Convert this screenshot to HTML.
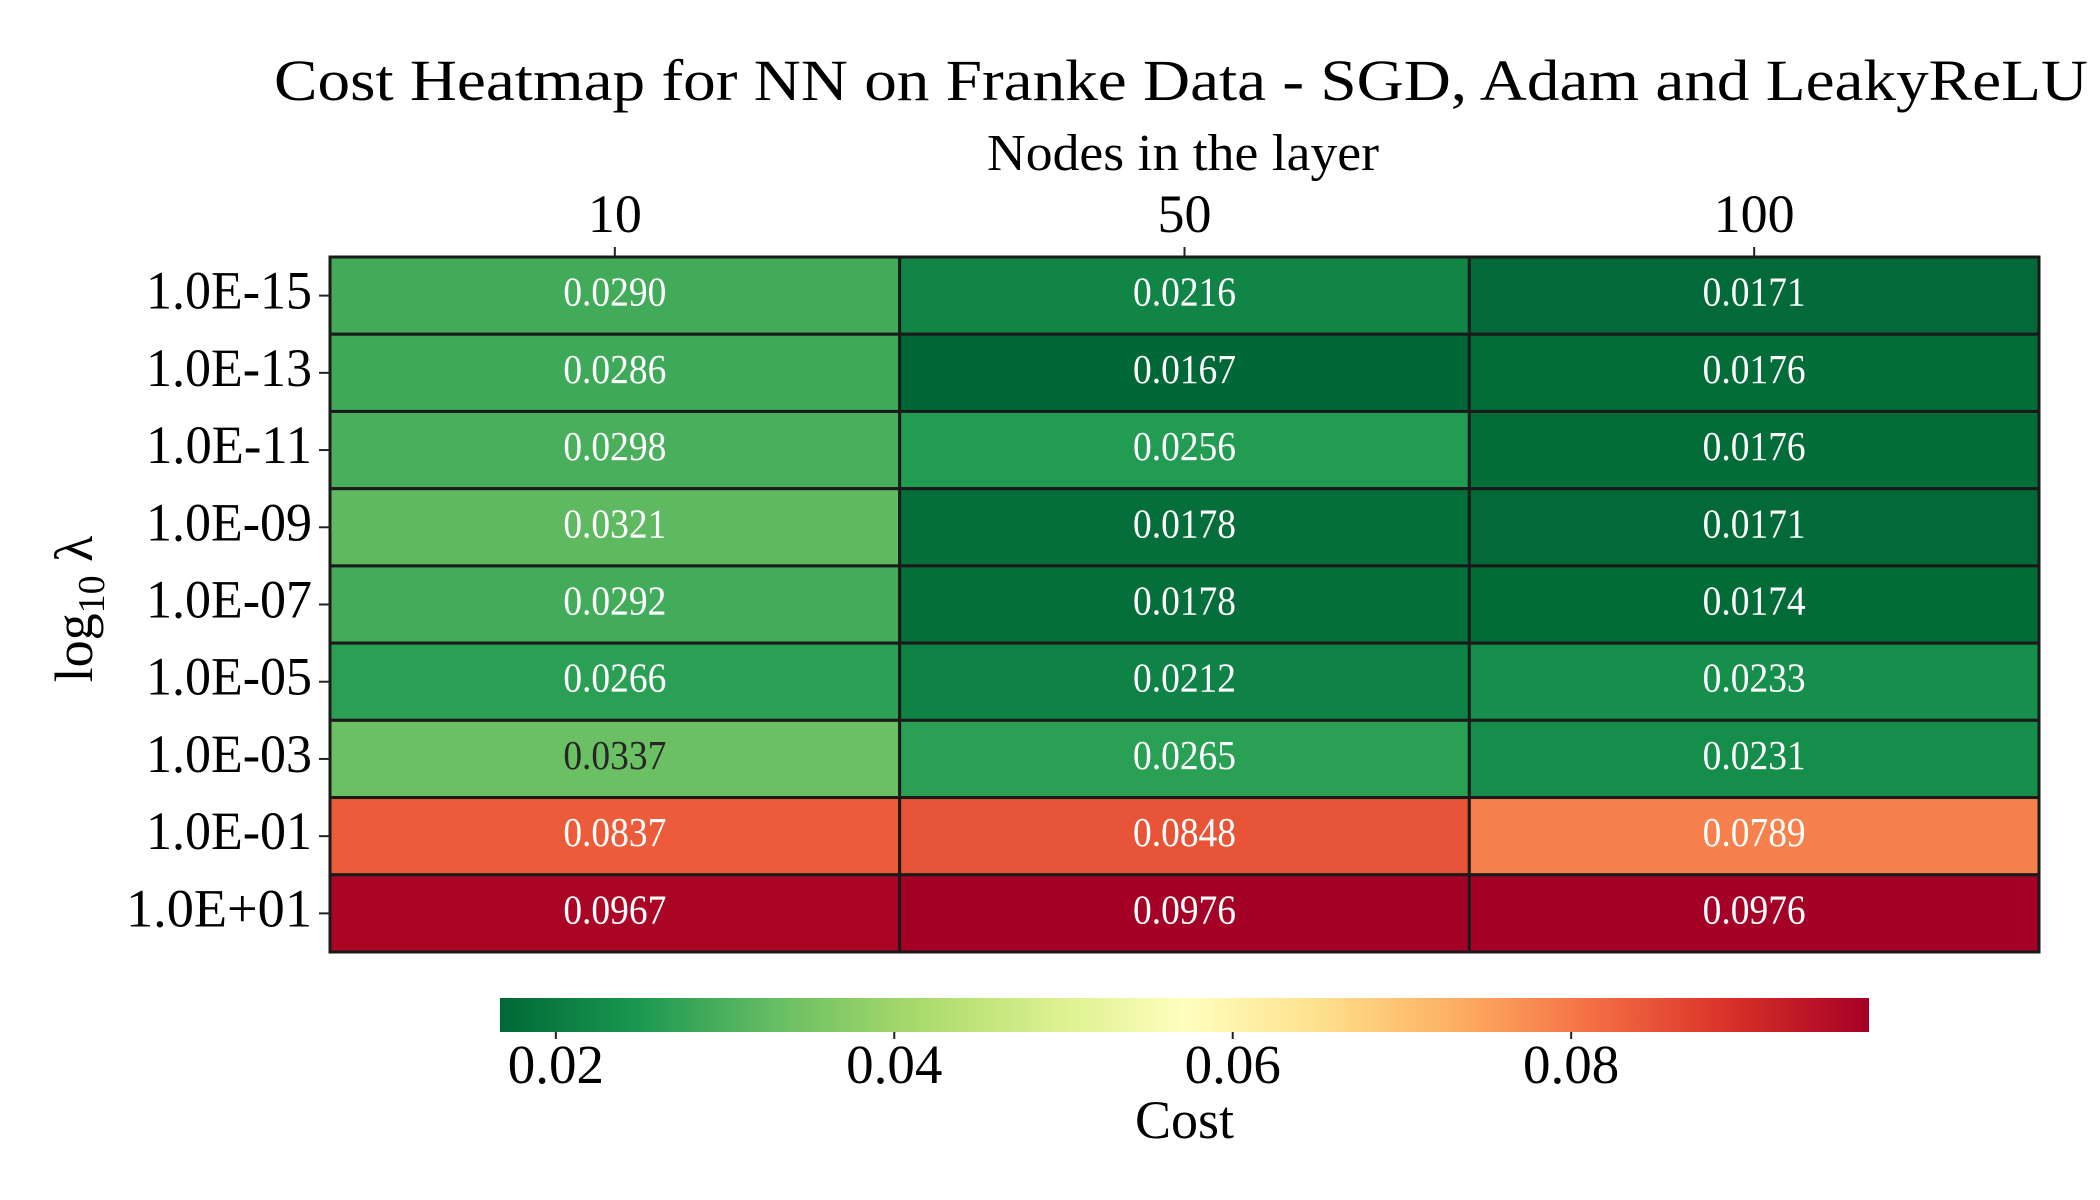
<!DOCTYPE html>
<html><head><meta charset="utf-8"><style>
html,body{margin:0;padding:0;background:#fff;}
svg{display:block;font-family:"Liberation Serif","DejaVu Serif",serif;}
</style></head><body>
<svg id="chart" width="2100" height="1200" viewBox="0 0 2100 1200" xmlns="http://www.w3.org/2000/svg">
<defs><linearGradient id="cbgrad" x1="0" x2="1" y1="0" y2="0"></linearGradient></defs>
<text x="1181" y="100" font-size="58" text-anchor="middle" textLength="1814" lengthAdjust="spacingAndGlyphs">Cost Heatmap for NN on Franke Data - SGD, Adam and LeakyReLU</text>
<text x="1183" y="170" font-size="52" text-anchor="middle" textLength="392" lengthAdjust="spacingAndGlyphs">Nodes in the layer</text>
<g id="ytitle" transform="translate(92,609) rotate(-90)">
<text x="0" y="0" font-size="54" text-anchor="middle">log<tspan font-size="38" dy="12">10</tspan><tspan dy="-12"> λ</tspan></text>
</g>
<g id="cells"></g><g id="xticks"></g><g id="yticks"></g><g id="cbar"></g>
</svg>
<script>
const categoriesX = ["10","50","100"];
const categoriesY = ["1.0E-15","1.0E-13","1.0E-11","1.0E-09","1.0E-07","1.0E-05","1.0E-03","1.0E-01","1.0E+01"];
const costRow15 = [0.0290,0.0216,0.0171];
const costRow13 = [0.0286,0.0167,0.0176];
const costRow11 = [0.0298,0.0256,0.0176];
const costRow09 = [0.0321,0.0178,0.0171];
const costRow07 = [0.0292,0.0178,0.0174];
const costRow05 = [0.0266,0.0212,0.0233];
const costRow03 = [0.0337,0.0265,0.0231];
const costRow01 = [0.0837,0.0848,0.0789];
const costRowP1 = [0.0967,0.0976,0.0976];
const cbarTicks = [0.02,0.04,0.06,0.08];
const cbarTickLabels = ["0.02","0.04","0.06","0.08"];

const NS="http://www.w3.org/2000/svg";
const rows=[costRow15,costRow13,costRow11,costRow09,costRow07,costRow05,costRow03,costRow01,costRowP1];
const L=330,R=2039,T=257,B=952;
const cw=(R-L)/categoriesX.length, rh=(B-T)/categoriesY.length;
const xPos=i=>L+i*cw, yPos=j=>T+j*rh;
const all=rows.flat(); const vmin=Math.min(...all), vmax=Math.max(...all);
const stops=["#006837","#1a9850","#66bd63","#a6d96a","#d9ef8b","#ffffbf","#fee08b","#fdae61","#f46d43","#d73027","#a50026"];
function hex(h){return [1,3,5].map(k=>parseInt(h.substr(k,2),16));}
function cmap(v){let t=(v-vmin)/(vmax-vmin);t=Math.max(0,Math.min(1,t));const p=t*(stops.length-1);const i=Math.min(Math.floor(p),stops.length-2);const f=p-i;const a=hex(stops[i]),b=hex(stops[i+1]);return a.map((c,k)=>Math.round(c+(b[k]-c)*f));}
function lum(c){const l=c.map(x=>{x/=255;return x<=0.03928?x/12.92:Math.pow((x+0.055)/1.055,2.4);});return 0.2126*l[0]+0.7152*l[1]+0.0722*l[2];}
function mk(tag,attrs,parent){const e=document.createElementNS(NS,tag);for(const k in attrs)e.setAttribute(k,attrs[k]);parent.appendChild(e);return e;}
const cells=document.getElementById('cells');
rows.forEach((r,j)=>r.forEach((v,i)=>{
  const c=cmap(v);
  const rect=mk('rect',{x:xPos(i),y:yPos(j),width:cw,height:rh,fill:`rgb(${c})`,stroke:'#1a1a1a','stroke-width':3},cells);
  
  
  const t=mk('text',{x:xPos(i)+cw/2,y:yPos(j)+rh/2+10,'font-size':41,'text-anchor':'middle',fill:lum(c)>0.408?'#262626':'#ffffff',textLength:103,lengthAdjust:'spacingAndGlyphs'},cells);
  
  
  t.textContent=v.toFixed(4);
}));
const xt=document.getElementById('xticks');
categoriesX.forEach((lab,i)=>{
  const x=xPos(i)+cw/2;
  const ln=mk('line',{x1:x,x2:x,y1:T-10,y2:T,stroke:'#222','stroke-width':2},xt);
  
  
  const t=mk('text',{x:x,y:232,'font-size':54,'text-anchor':'middle'},xt);
  
  
  t.textContent=lab;
});
const yt=document.getElementById('yticks');
categoriesY.forEach((lab,j)=>{
  const y=yPos(j)+rh/2;
  const ln=mk('line',{x1:L-11,x2:L,y1:y,y2:y,stroke:'#222','stroke-width':2},yt);
  
  
  const t=mk('text',{x:L-18,y:y+13,'font-size':54,'text-anchor':'end',textLength:(lab.indexOf('+')>=0?186:166),lengthAdjust:'spacingAndGlyphs'},yt);
  
  
  t.textContent=lab;
});
const CL=500,CR=1869,CT=998,CB=1032;
const grad=document.getElementById('cbgrad');
stops.forEach((s,k)=>{mk('stop',{offset:(k/(stops.length-1)),'stop-color':s},grad);});
const cb=document.getElementById('cbar');
const cbr=mk('rect',{x:CL,y:CT,width:CR-CL,height:CB-CT,fill:'url(#cbgrad)'},cb);


const cx=v=>CL+(v-vmin)/(vmax-vmin)*(CR-CL);
cbarTicks.forEach((v,k)=>{
  const x=cx(v);
  const ln=mk('line',{x1:x,x2:x,y1:CB,y2:CB+7,stroke:'#222','stroke-width':2},cb);
  
  
  const t=mk('text',{x:x,y:1083,'font-size':55,'text-anchor':'middle'},cb);
  
  
  t.textContent=cbarTickLabels[k];
});
const ct=mk('text',{x:(CL+CR)/2,y:1138,'font-size':54,'text-anchor':'middle'},cb);


ct.textContent='Cost';
</script>
</body></html>
